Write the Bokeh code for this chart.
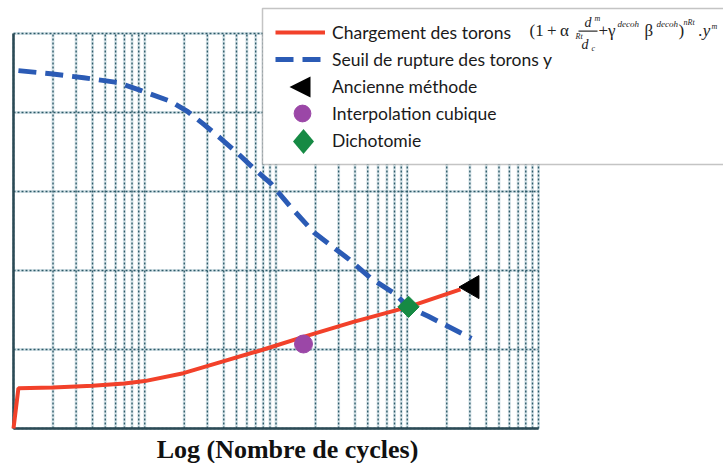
import math
from bokeh.plotting import figure
from bokeh.models import Legend, LegendItem, Label, BoxAnnotation, PolyAnnotation
from bokeh.embed import file_html
from bokeh.resources import INLINE

# ---------------- data ----------------
charge_x = [1, 1.09, 2, 4, 7, 10, 19.7, 37.8, 80.3, 162, 389, 1023, 2546]
charge_y = [0, 0.51, 0.52, 0.54, 0.57, 0.60, 0.70, 0.84, 1.00, 1.16, 1.35, 1.54, 1.76]

seuil_x = [1.09, 1.92, 3.42, 6.2, 9.3, 15.8, 21.3, 28.2, 38.0, 51.3, 67.9, 91.6,
           130, 195, 355, 531, 796, 1023, 1446, 3083]
seuil_y = [4.53, 4.49, 4.44, 4.38, 4.28, 4.14, 4.01, 3.85, 3.67, 3.48, 3.29, 3.10,
           2.80, 2.48, 2.15, 1.90, 1.71, 1.54, 1.42, 1.14]

ancienne_x = [3130]
ancienne_y = [1.79]
cubique_x = [162]
cubique_y = [1.07]
dicho_x = [1023]
dicho_y = [1.54]

x_min, x_max = 1, 10000
y_min, y_max = 0, 5
y_grid_ticks = [0, 1, 2, 3, 4, 5]
x_grid_ticks = [m * 10 ** e for e in range(4) for m in range(1, 10)] + [10000]

legend_labels = ["Chargement des torons", "Seuil de rupture des torons y",
                 "Ancienne méthode", "Interpolation cubique", "Dichotomie"]
x_title = "Log (Nombre de cycles)"

# ---------------- layout (pixels) ----------------
W, H = 723, 463
FL, FR, FT, FB = 13, 538, 33, 428          # plotting area inside the canvas
decade = (FR - FL) / math.log10(x_max / x_min)
unit = (FB - FT) / (y_max - y_min)
x_lo = x_min * 10 ** (-FL / decade)
x_hi = x_max * 10 ** ((W - FR) / decade)
y_lo = y_min - (H - FB) / unit
y_hi = y_max + FT / unit

p = figure(width=W, height=H, x_axis_type="log",
           x_range=(x_lo, x_hi), y_range=(y_lo, y_hi),
           output_backend="svg", toolbar_location=None,
           min_border=0, min_border_left=0, min_border_right=0,
           min_border_top=0, min_border_bottom=0)
p.xaxis.visible = False
p.yaxis.visible = False
p.xgrid.visible = False
p.ygrid.visible = False
p.outline_line_color = None
p.background_fill_color = "white"
p.border_fill_color = "white"

nx, ny = len(x_grid_ticks), len(y_grid_ticks)
# grid: light halo then dark dotted lines
p.segment(x0=x_grid_ticks, y0=[y_min] * nx, x1=x_grid_ticks, y1=[y_max] * nx,
          line_color="#d8e5ea", line_width=3)
p.segment(x0=[x_min] * ny, y0=y_grid_ticks, x1=[x_max] * ny, y1=y_grid_ticks,
          line_color="#d8e5ea", line_width=3)
p.segment(x0=x_grid_ticks, y0=[y_min] * nx, x1=x_grid_ticks, y1=[y_max] * nx,
          line_color="#2c5a68", line_width=1.4, line_dash="2 2")
p.segment(x0=[x_min] * ny, y0=y_grid_ticks, x1=[x_max] * ny, y1=y_grid_ticks,
          line_color="#2c5a68", line_width=1.4, line_dash="2 2")
# solid left and bottom borders
p.segment(x0=[x_min, x_min], y0=[y_min, y_min], x1=[x_min, x_max], y1=[y_max, y_min],
          line_color="#2c4a55", line_width=2.5)

r_charge = p.line(charge_x, charge_y, line_color="#f2412a", line_width=4)
r_seuil = p.line(seuil_x, seuil_y, line_color="#2b5bb5", line_width=5, line_dash="18 9")
r_old = p.scatter(ancienne_x, ancienne_y, marker="triangle", size=23,
                  angle=math.pi / 2, color="black")
r_cub = p.scatter(cubique_x, cubique_y, marker="circle", size=18, color="#9b47a7")
r_dich = p.scatter(dicho_x, dicho_y, marker="square", size=15,
                   angle=math.pi / 4, color="#168a44")

# ---------------- legend ----------------
# legend frame (drawn as a box, the legend itself is transparent)
LX, LT, LB = 262, 8, 164
PAD = 13
p.add_layout(BoxAnnotation(left=LX, right=W + 60, top=H - LT, bottom=H - LB,
                           left_units="screen", right_units="screen",
                           top_units="screen", bottom_units="screen",
                           fill_color="white", fill_alpha=1,
                           line_color="#3a3a3a", line_width=1.5))

item_renderers = [[r_charge], [r_seuil], [], [r_cub], []]
legA = Legend(items=[LegendItem(label=l, renderers=r) for l, r in zip(legend_labels, item_renderers)],
              location=(LX + PAD, H - LB + PAD), orientation="vertical",
              glyph_width=50, glyph_height=22, label_height=22, label_width=420,
              spacing=5, padding=0, margin=0, label_standoff=7,
              label_text_font="Lato", label_text_font_size="17.5px",
              label_text_color="#1a1a1a",
              border_line_color=None, background_fill_alpha=0)
p.add_layout(legA)

# bigger legend symbols
Hc = 42
p.add_layout(Legend(items=[LegendItem(label=" ", renderers=[r_cub])],
                    location=(302 - Hc // 2, H - (113 + Hc // 2)),
                    glyph_width=Hc, glyph_height=Hc, label_height=Hc, label_width=1,
                    padding=0, margin=0, spacing=0, label_standoff=0,
                    label_text_font_size="1px",
                    border_line_color=None, background_fill_alpha=0))
p.add_layout(PolyAnnotation(xs=[289, 310, 310], ys=[H - 86.5, H - 76, H - 97],
                            xs_units="screen", ys_units="screen",
                            fill_color="black", fill_alpha=1, line_color=None,
                            level="overlay"))
p.add_layout(PolyAnnotation(xs=[303, 313.5, 303, 292.5], ys=[H - 128.5, H - 141, H - 153.5, H - 141],
                            xs_units="screen", ys_units="screen",
                            fill_color="#168a44", fill_alpha=1, line_color=None,
                            level="overlay"))

# formula after the first legend entry
BL = 0.28   # baseline correction (fraction of font size)
formula = [("(1\u2009+\u2009α", 529, 35, 17, "normal"), ("Rt", 575, 38, 8, "italic"),
           ("d", 584, 26, 14, "italic"), ("m", 594, 20, 8, "italic"),
           ("d", 581, 48, 14, "italic"), ("c", 591, 50, 8, "italic"),
           ("+γ", 598, 35, 17, "normal"), ("decoh", 617, 26, 9, "italic"),
           ("β", 644, 35, 17, "normal"), ("decoh", 656, 26, 9, "italic"),
           (")", 678, 35, 17, "normal"), ("nRt", 683, 24, 8, "italic"),
           (".y", 698, 35, 17, "italic"), ("m", 711, 28, 8, "italic")]
for txt, px, py, fs, st in formula:
    p.add_layout(Label(x=px, y=H - py + BL * fs, x_units="screen", y_units="screen",
                       text=txt, text_font="Liberation Serif", text_font_size=f"{fs}px",
                       text_font_style=st, text_color="#222222",
                       text_baseline="alphabetic", text_align="left", level="overlay"))
p.add_layout(BoxAnnotation(left=578, right=597, top=H - 30, bottom=H - 31.2,
                           left_units="screen", right_units="screen",
                           top_units="screen", bottom_units="screen",
                           fill_color="#333333", fill_alpha=1, line_color=None,
                           level="overlay"))

# x-axis title
p.add_layout(Label(x=287, y=H - 456 + BL * 26, x_units="screen", y_units="screen",
                   text=x_title, text_font="Liberation Serif", text_font_size="26px",
                   text_font_style="bold", text_color="#111111",
                   text_baseline="alphabetic", text_align="center"))

open("out.html", "w").write(file_html(p, INLINE))
